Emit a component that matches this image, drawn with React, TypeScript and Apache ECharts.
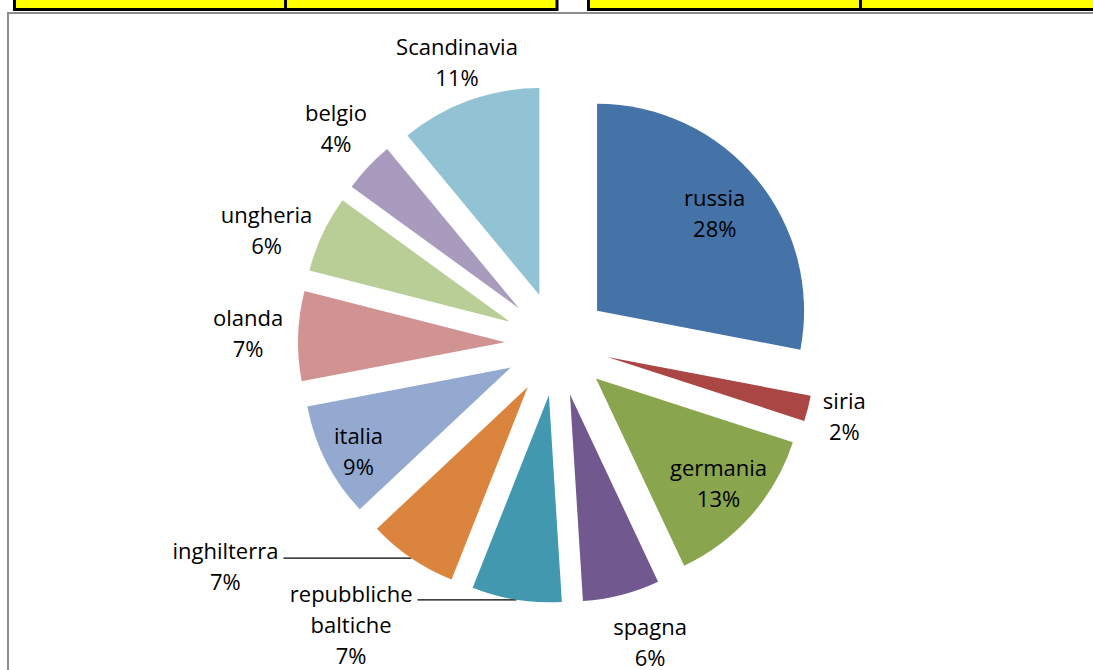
import React, { useEffect, useRef } from 'react';
import * as echarts from 'echarts';

const categories = [
  'russia', 'siria', 'germania', 'spagna', 'repubbliche baltiche', 'inghilterra',
  'italia', 'olanda', 'ungheria', 'belgio', 'Scandinavia',
];
const values = [28, 2, 13, 6, 7, 7, 9, 7, 6, 4, 11];
const colors = [
  '#4572A7', '#AA4643', '#89A54E', '#71588F', '#4198AF', '#DB843D',
  '#93A9CF', '#D19392', '#B9CD96', '#A99BBD', '#92C3D4',
];
const insideNames = ['russia', 'germania', 'italia'];
const leaderNames = ['inghilterra', 'repubbliche baltiche'];

// label nudges (dx, dy) in px, applied via asymmetric padding
const nudges: Record<string, [number, number]> = {
  russia: [-1, 0],
  germania: [7, 2],
  italia: [-15, 13],
  Scandinavia: [5, 9],
  siria: [-13, -6],
  spagna: [16, -3],
  belgio: [5, -4],
  ungheria: [-10, 17],
  olanda: [1, -2],
};
const leaderStyle: Record<string, { length2: number; padTop: number }> = {
  inghilterra: { length2: 128, padTop: 15 },
  'repubbliche baltiche': { length2: 99, padTop: 48 },
};

const FONT = 'Open Sans';
const CX = 557, CY = 344, R = 207, OFFSET = 52;

function pad(dx: number, dy: number) {
  return [Math.max(0, 2 * dy), Math.max(0, -2 * dx), Math.max(0, -2 * dy), Math.max(0, 2 * dx)];
}

const tokenStyle = { align: 'center', fontFamily: FONT, fontSize: 22, lineHeight: 31, color: '#000' };
const baseLabel = {
  fontFamily: FONT,
  fontSize: 22,
  lineHeight: 31,
  color: '#000',
  textBorderWidth: 0,
  formatter: (p: any) =>
    p.name.split(' ').map((s: string) => `{c|${s}}`).join('\n') +
    `\n{c|${Math.round(p.percent)}%}`,
  rich: { c: tokenStyle },
};

export default function App() {
  const ref = useRef<HTMLDivElement>(null);
  useEffect(() => {
    if (!ref.current) return;
    const chart = echarts.init(ref.current, undefined, { renderer: 'svg' });

    const visualData = categories.map((name, i) => {
      const isLeader = leaderNames.includes(name);
      const ls = leaderStyle[name];
      return {
        name,
        value: values[i],
        selected: true,
        itemStyle: { color: colors[i] },
        label: isLeader
          ? { show: true, position: 'outside', padding: [ls.padTop, 0, 0, 0] }
          : { show: false },
        labelLine: isLeader
          ? { show: true, length: 0, length2: ls.length2 }
          : { show: false },
      };
    });

    const transparentData = (showSet: (n: string) => boolean) =>
      categories.map((name, i) => {
        const show = showSet(name);
        const n = nudges[name] || [0, 0];
        return {
          name,
          value: values[i],
          selected: true,
          itemStyle: { color: 'rgba(0,0,0,0)', borderWidth: 0 },
          label: show ? { show: true, position: 'inside', padding: pad(n[0], n[1]) } : { show: false },
          labelLine: { show: false },
        };
      });

    const common = {
      type: 'pie',
      center: [CX, CY],
      selectedMode: 'multiple',
      selectedOffset: OFFSET,
      startAngle: 90,
      clockwise: true,
      avoidLabelOverlap: false,
      silent: true,
      emphasis: { disabled: true },
      labelLayout: { hideOverlap: false },
    };

    chart.setOption({
      animation: false,
      graphic: [
        {
          type: 'rect',
          silent: true,
          shape: { x: 8, y: 13, width: 1300, height: 900 },
          style: { fill: 'none', stroke: '#8c8c8c', lineWidth: 2 },
        },
        {
          type: 'rect',
          silent: true,
          shape: { x: 14.5, y: -10, width: 542.5, height: 19.5 },
          style: { fill: '#ffff00', stroke: '#000', lineWidth: 3 },
        },
        {
          type: 'line',
          silent: true,
          shape: { x1: 285.5, y1: -10, x2: 285.5, y2: 9 },
          style: { stroke: '#000', lineWidth: 3 },
        },
        {
          type: 'rect',
          silent: true,
          shape: { x: 588.5, y: -10, width: 700, height: 19.5 },
          style: { fill: '#ffff00', stroke: '#000', lineWidth: 3 },
        },
        {
          type: 'line',
          silent: true,
          shape: { x1: 860.5, y1: -10, x2: 860.5, y2: 9 },
          style: { stroke: '#000', lineWidth: 3 },
        },
      ],
      series: [
        {
          ...common,
          name: 'visual',
          radius: [0, R],
          data: visualData,
          label: baseLabel,
          labelLine: { lineStyle: { color: '#000', width: 1.3 }, smooth: false },
        },
        {
          ...common,
          name: 'insideLabels',
          radius: [95, R],
          data: transparentData((n) => insideNames.includes(n)),
          label: baseLabel,
          labelLine: { show: false },
        },
        {
          ...common,
          name: 'outsideLabels',
          radius: [R, 303],
          data: transparentData((n) => !insideNames.includes(n) && !leaderNames.includes(n)),
          label: baseLabel,
          labelLine: { show: false },
        },
      ],
    } as any);

    return () => chart.dispose();
  }, []);

  return (
    <div
      ref={ref}
      style={{ position: 'absolute', left: 0, top: 0, width: 1093, height: 670, background: '#fff' }}
    />
  );
}
